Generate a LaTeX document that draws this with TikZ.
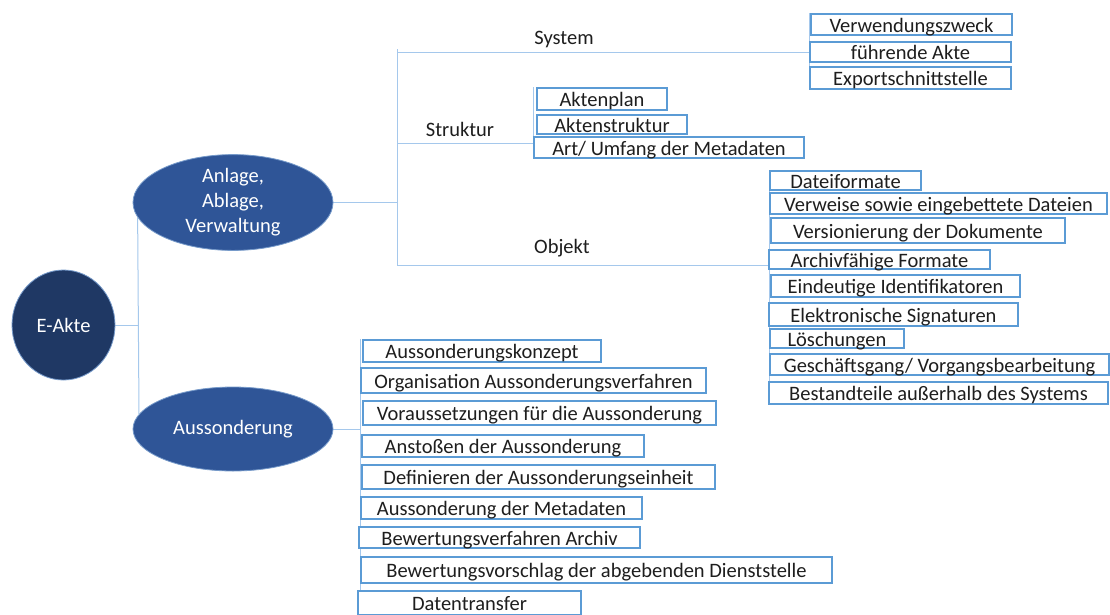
\documentclass[tikz,border=0pt]{standalone}
\usepackage{fontspec}
\setmainfont{Carlito}
\usetikzlibrary{shapes.geometric,backgrounds}

\definecolor{navy}{RGB}{31,56,100}
\definecolor{midblue}{RGB}{47,85,151}
\definecolor{boxblue}{RGB}{91,155,213}
\definecolor{linkblue}{RGB}{165,200,236}
\definecolor{ink}{RGB}{30,30,30}

\tikzset{
  txt/.style={font=\fontsize{20.5}{25}\selectfont, text=ink},
  box/.style={txt, draw=boxblue, line width=1.3pt, fill=white, inner sep=0pt,
    text height=17pt, text depth=2pt},
  blob/.style={ellipse, fill=midblue, draw=linkblue!60!midblue, line width=0.8pt,
    text=white, font=\fontsize{20.5}{25}\selectfont, align=center, inner sep=0pt},
  link/.style={draw=linkblue, line width=1pt},
}

\begin{document}
\begin{tikzpicture}[x=1pt, y=-1pt]
\clip (0,0) rectangle (1110,614);

% Kreise
\node[blob, fill=navy, minimum width=103pt, minimum height=110pt] (eakte) at (63.5,325) {E-Akte};
\node[blob, minimum width=200pt, minimum height=85pt] (anlage) at (233,202.5) {Anlage,\\Ablage,\\Verwaltung};
\node[blob, minimum width=200pt, minimum height=84pt] (aus) at (233,429) {Aussonderung};

\node[txt] (system) at (564,39) {System};
\node[txt] (struktur) at (460,129) {Struktur};
\node[txt] (objekt) at (562,248) {Objekt};

% System
\foreach \nm/\xa/\ya/\xb/\yb/\t in {
  verw/811/14/1012/35/Verwendungszweck,
  fuehrend/810/42/1011/62/führende Akte,
  export/810/67/1011/89/Exportschnittstelle}
  \node[box, minimum width={(\xb-\xa)*1pt}, minimum height={(\yb-\ya)*1pt}] (\nm) at ({(\xa+\xb)/2},{(\ya+\yb)/2}) {\t};

% Struktur
\foreach \nm/\xa/\ya/\xb/\yb/\t in {
  plan/537/88/667/110/Aktenplan,
  astruktur/537/115/687/134/Aktenstruktur,
  meta/534/137/804/158/{Art/ Umfang der Metadaten}}
  \node[box, minimum width={(\xb-\xa)*1pt}, minimum height={(\yb-\ya)*1pt}] (\nm) at ({(\xa+\xb)/2},{(\ya+\yb)/2}) {\t};

% Objekt
\foreach \nm/\xa/\ya/\xb/\yb/\t in {
  datei/770/171/921/190/Dateiformate,
  verweise/770/193/1107/214/Verweise sowie eingebettete Dateien,
  version/771/218/1065/243/Versionierung der Dokumente,
  archiv/769/250/990/269/Archivfähige Formate,
  ident/771/275/1020/297/Eindeutige Identifikatoren,
  signatur/769/303/1018/326/Elektronische Signaturen,
  loesch/770/329/904/348/Löschungen,
  gang/770/354/1109/375/{Geschäftsgang/ Vorgangsbearbeitung},
  bestand/769/382/1108/404/Bestandteile außerhalb des Systems}
  \node[box, minimum width={(\xb-\xa)*1pt}, minimum height={(\yb-\ya)*1pt}] (\nm) at ({(\xa+\xb)/2},{(\ya+\yb)/2}) {\t};

% Aussonderung
\foreach \nm/\xa/\ya/\xb/\yb/\t in {
  konzept/363/340/601/362/Aussonderungskonzept,
  orga/361/368/706/393/Organisation Aussonderungsverfahren,
  voraus/363/401/716/425/Voraussetzungen für die Aussonderung,
  anstoss/362/435/644/457/Anstoßen der Aussonderung,
  einheit/362/465/715/489/Definieren der Aussonderungseinheit,
  ausmeta/361/497/642/519/Aussonderung der Metadaten,
  bewarchiv/359/527/640/548/Bewertungsverfahren Archiv,
  vorschlag/361/557/832/583/Bewertungsvorschlag der abgebenden Dienststelle,
  transfer/358/591/581/615/Datentransfer}
  \node[box, minimum width={(\xb-\xa)*1pt}, minimum height={(\yb-\ya)*1pt}] (\nm) at ({(\xa+\xb)/2},{(\ya+\yb)/2}) {\t};

% Verbindungen
\begin{pgfonlayer}{background}
\fill[white] (0,0) rectangle (1110,614);
\draw[link] (eakte.east) -- (eakte.east -| anlage.189);
\draw[link] (anlage.189) -- (aus.171);
\draw[link] (anlage.east) -- ++(64,0) coordinate (gabel);
\coordinate (sys) at (fuehrend.west);
\coordinate (str) at ([yshift=4.5pt]meta.west);
\coordinate (obj) at ([yshift=-5.5pt]archiv.west);
\draw[link] ([yshift=3pt]gabel |- sys) -- (gabel |- obj);
\draw[link] (gabel |- sys) -- (sys);
\draw[link] (gabel |- str) -- (str);
\draw[link] (gabel |- obj) -- (obj);
\draw[link] (fuehrend.west |- verw.north) -- (export.south west);
\draw[link] (meta.west |- plan.north) -- (meta.south west);
\draw[link] (datei.north west) -- (datei.west |- bestand.south);
\draw[link] (orga.west |- konzept.north) -- (orga.west |- transfer.south);
\draw[link] (aus.east) -- (aus.east -| orga.west);
\end{pgfonlayer}

\end{tikzpicture}
\end{document}
